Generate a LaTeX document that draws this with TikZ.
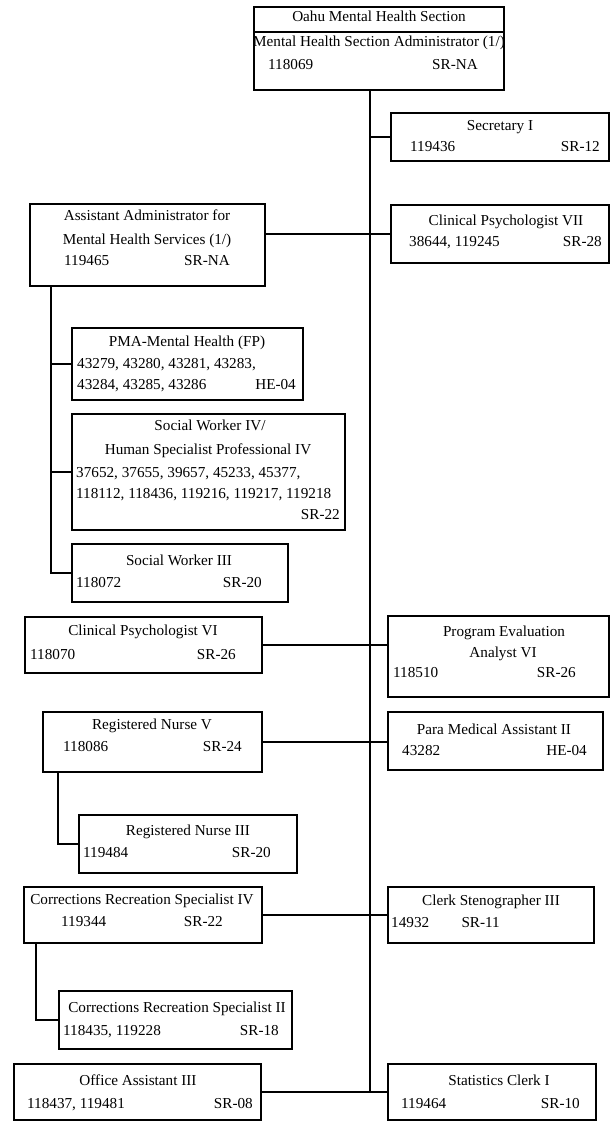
\documentclass[tikz,border=0pt]{standalone}
\usepackage{fontspec}
\setmainfont{Liberation Serif}
\newcommand\mkbox[5]{%
  \pgfmathsetmacro\bw{#4-#2}\pgfmathsetmacro\bh{#5-#3}%
  \node[box, minimum width=\bw pt, minimum height=\bh pt] (#1) at ({(#2+#4)/2},{(#3+#5)/2}) {};}
\begin{document}
\begin{tikzpicture}[x=1pt,y=-1pt,
  box/.style={draw, line width=1.3pt, inner sep=0pt, outer sep=0pt},
  conn/.style={line width=1.3pt},
  txt/.style={inner sep=0pt, font=\fontsize{15.2}{18}\selectfont},
  tc/.style={txt, anchor=mid},
  tl/.style={txt, anchor=mid west},
  tr/.style={txt, anchor=mid east}]
\useasboundingbox[fill=white] (0,0) rectangle (610,1123);

% boxes
\mkbox{top}{254}{7}{504}{90}
\mkbox{sec}{391}{113}{609}{161}
\mkbox{cpvii}{391}{205}{609}{263}
\mkbox{aa}{30}{204}{265}{286}
\mkbox{pma}{72}{328}{303}{400}
\mkbox{swiv}{72}{414}{345}{530}
\mkbox{swiii}{72}{544}{288}{602}
\mkbox{cpvi}{25}{617}{262}{673}
\mkbox{pe}{388}{616}{609}{697}
\mkbox{rnv}{43}{712}{262}{772}
\mkbox{pm}{388}{712}{603}{770}
\mkbox{rniii}{79}{815}{297}{873}
\mkbox{crsiv}{24}{887}{262}{943}
\mkbox{cs}{388}{887}{594}{943}
\mkbox{crsii}{59}{991}{292}{1049}
\mkbox{oa}{14}{1064}{261}{1120}
\mkbox{sc}{388}{1064}{596}{1120}

% divider in top box
\coordinate (dv) at (0,32);
\draw[conn] (top.west |- dv) -- (top.east |- dv);

% main line
\coordinate (mx) at (370,0);
\draw[conn] (top.south -| mx) -- (oa.east -| mx);
\draw[conn] (sec.west) -- (sec.west -| mx);
\draw[conn] (cpvii.west) -- (cpvii.west -| aa.east);
\draw[conn] (cpvi.east) -- (cpvi.east -| pe.west);
\draw[conn] (rnv.east) -- (rnv.east -| pm.west);
\draw[conn] (crsiv.east) -- (crsiv.east -| cs.west);
\draw[conn] (oa.east) -- (oa.east -| sc.west);

% left branches
\coordinate (ax) at (51,0);
\draw[conn] (aa.south -| ax) |- (swiii.west);
\draw[conn] (pma.west) -- (pma.west -| ax);
\draw[conn] (swiv.west) -- (swiv.west -| ax);
\coordinate (rx) at (58,0);
\draw[conn] (rnv.south -| rx) |- (rniii.west);
\coordinate (cx) at (36,0);
\draw[conn] (crsiv.south -| cx) |- (crsii.west);

% texts
\node[tc] (t1) at (379,19) {Oahu Mental Health Section};
\node[tc] (t2) at (379,44) {Mental Health Section Administrator (1/)};
\node[tl] (t3) at (268,67) {118069};
\node[tr] (t4) at (478,67) {SR-NA};

\node[tc] (s1) at (500,128) {Secretary I};
\node[tl] (s2) at (410,149) {119436};
\node[tr] (s3) at (600,149) {SR-12};

\node[tc] (c1) at (506,223) {Clinical Psychologist VII};
\node[tl] (c2) at (409,244) {38644, 119245};
\node[tr] (c3) at (602,244) {SR-28};

\node[tc] (a1) at (147,218) {Assistant Administrator for};
\node[tc] (a2) at (147,242) {Mental Health Services (1/)};
\node[tl] (a3) at (64,263) {119465};
\node[tr] (a4) at (230,263) {SR-NA};

\node[tc] (p1) at (187,344) {PMA-Mental Health (FP)};
\node[tl] (p2) at (77,366) {43279, 43280, 43281, 43283,};
\node[tl] (p3) at (77,387) {43284, 43285, 43286};
\node[tr] (p4) at (296,387) {HE-04};

\node[tc] (w1) at (210,428) {Social Worker IV/};
\node[tc] (w2) at (208,452) {Human Specialist Professional IV};
\node[tl] (w3) at (76,475) {37652, 37655, 39657, 45233, 45377,};
\node[tl] (w4) at (76,496) {118112, 118436, 119216, 119217, 119218};
\node[tr] (w5) at (340,517) {SR-22};

\node[tc] (x1) at (179,563) {Social Worker III};
\node[tl] (x2) at (76,585) {118072};
\node[tr] (x3) at (262,585) {SR-20};

\node[tc] (v1) at (143,633) {Clinical Psychologist VI};
\node[tl] (v2) at (30,657) {118070};
\node[tr] (v3) at (236,657) {SR-26};

\node[tc] (e1) at (504,634) {Program Evaluation};
\node[tc] (e2) at (503,655) {Analyst VI};
\node[tl] (e3) at (393,675) {118510};
\node[tr] (e4) at (576,675) {SR-26};

\node[tc] (n1) at (152,727) {Registered Nurse V};
\node[tl] (n2) at (63,749) {118086};
\node[tr] (n3) at (242,749) {SR-24};

\node[tc] (m1) at (494,732) {Para Medical Assistant II};
\node[tl] (m2) at (402,753) {43282};
\node[tr] (m3) at (587,753) {HE-04};

\node[tc] (r1) at (188,833) {Registered Nurse III};
\node[tl] (r2) at (83,855) {119484};
\node[tr] (r3) at (271,855) {SR-20};

\node[tc] (k1) at (142,902) {Corrections Recreation Specialist IV};
\node[tl] (k2) at (61,924) {119344};
\node[tr] (k3) at (223,924) {SR-22};

\node[tc] (g1) at (491,903) {Clerk Stenographer III};
\node[tl] (g2) at (391,925) {14932};
\node[tr] (g3) at (500,925) {SR-11};

\node[tc] (h1) at (177,1010) {Corrections Recreation Specialist II};
\node[tl] (h2) at (63,1033) {118435, 119228};
\node[tr] (h3) at (279,1033) {SR-18};

\node[tc] (o1) at (138,1083) {Office Assistant III};
\node[tl] (o2) at (27,1106) {118437, 119481};
\node[tr] (o3) at (253,1106) {SR-08};

\node[tc] (q1) at (499,1083) {Statistics Clerk I};
\node[tl] (q2) at (401,1106) {119464};
\node[tr] (q3) at (580,1106) {SR-10};
\end{tikzpicture}
\end{document}
